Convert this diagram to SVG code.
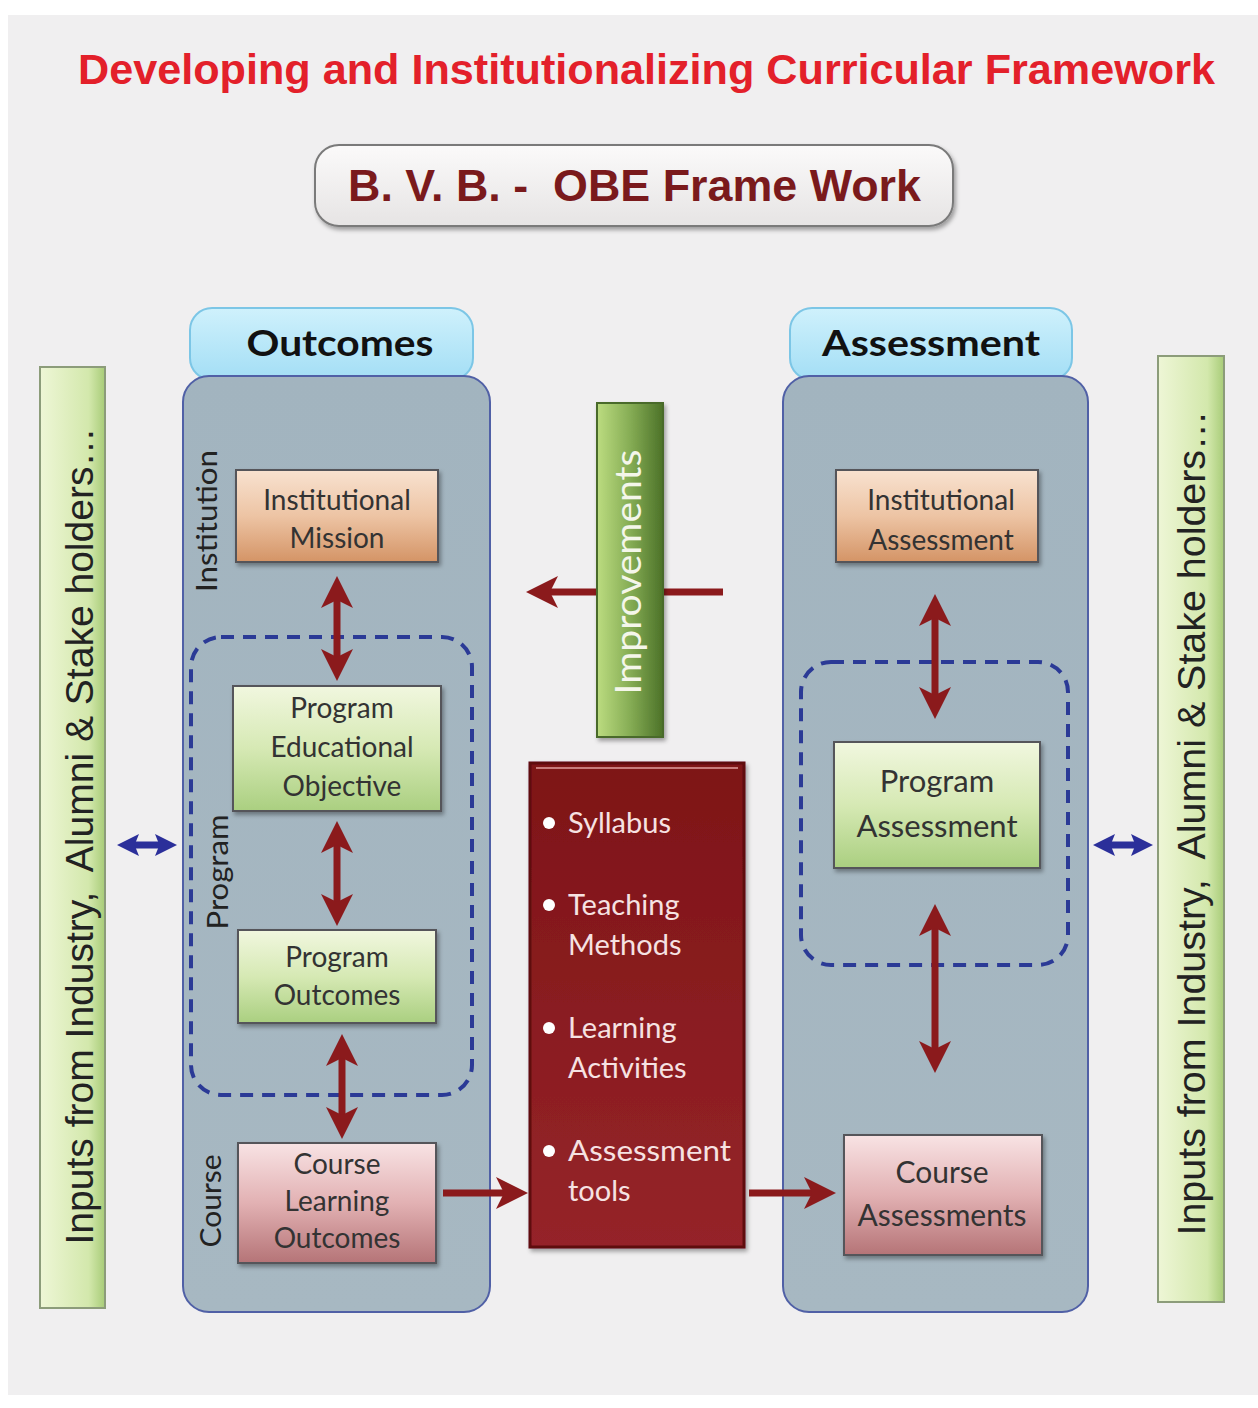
<svg xmlns="http://www.w3.org/2000/svg" width="1258" height="1408" viewBox="0 0 1258 1408">
<style>
.t{font-family:Lato,"Open Sans",sans-serif;fill:#333;text-anchor:middle}
.box{stroke:#55555a;stroke-width:2;filter:url(#sh)}
.dash{fill:none;stroke:#2b3a96;stroke-width:4;stroke-dasharray:13 9}
.red{stroke:#8b1a1c;stroke-width:7;fill:none}
.blue{stroke:#2b2f9a;stroke-width:7;fill:none}
.bul{font-family:Lato,"Open Sans",sans-serif;fill:#f6e2e2;font-size:29px}
</style>
<defs>
<filter id="sh" x="-10%" y="-10%" width="130%" height="130%"><feDropShadow dx="2" dy="3" stdDeviation="2" flood-color="#000" flood-opacity="0.35"/></filter>
<linearGradient id="peach" x1="0" y1="0" x2="0" y2="1"><stop offset="0" stop-color="#f8e2d0"/><stop offset="0.5" stop-color="#edc4a4"/><stop offset="1" stop-color="#d49466"/></linearGradient>
<linearGradient id="green" x1="0" y1="0" x2="0" y2="1"><stop offset="0" stop-color="#f1f7df"/><stop offset="0.5" stop-color="#d6e9b4"/><stop offset="1" stop-color="#aacf80"/></linearGradient>
<linearGradient id="pink" x1="0" y1="0" x2="0" y2="1"><stop offset="0" stop-color="#f8e3e4"/><stop offset="0.5" stop-color="#e2b1b3"/><stop offset="1" stop-color="#b57477"/></linearGradient>
<linearGradient id="tab" x1="0" y1="0" x2="0" y2="1"><stop offset="0" stop-color="#cff1fc"/><stop offset="1" stop-color="#a3def5"/></linearGradient>
<linearGradient id="panel" x1="0" y1="0" x2="0" y2="1"><stop offset="0" stop-color="#a2b4bf"/><stop offset="1" stop-color="#a7b8c2"/></linearGradient>
<linearGradient id="inp" x1="0" y1="0" x2="1" y2="0"><stop offset="0" stop-color="#eef6d6"/><stop offset="0.75" stop-color="#d3e8ac"/><stop offset="1" stop-color="#a8cc78"/></linearGradient>
<linearGradient id="imp" x1="0" y1="0" x2="1" y2="0"><stop offset="0" stop-color="#bcdc80"/><stop offset="0.5" stop-color="#86ad55"/><stop offset="1" stop-color="#4c7228"/></linearGradient>
<linearGradient id="dred" x1="0" y1="0" x2="0" y2="1"><stop offset="0" stop-color="#7e1417"/><stop offset="1" stop-color="#952429"/></linearGradient>
<linearGradient id="bvb" x1="0" y1="0" x2="0" y2="1"><stop offset="0" stop-color="#fbfafa"/><stop offset="1" stop-color="#e6e4e4"/></linearGradient>
<marker id="ar" viewBox="0 0 10 10" refX="5" refY="5" markerWidth="32" markerHeight="32" markerUnits="userSpaceOnUse" orient="auto-start-reverse"><path d="M0,0 L10,5 L0,10 L2.5,5 z" fill="#8b1a1c"/></marker>
<marker id="ab" viewBox="0 0 10 10" refX="5" refY="5" markerWidth="22" markerHeight="22" markerUnits="userSpaceOnUse" orient="auto-start-reverse"><path d="M0,0 L10,5 L0,10 L2,5 z" fill="#2b2f9a"/></marker>
</defs>

<rect x="0" y="0" width="1258" height="1408" fill="#ffffff"/>
<rect x="8" y="15" width="1250" height="1380" fill="#f0eff0"/>

<g id="title">
<text x="78" y="84" textLength="1137" lengthAdjust="spacingAndGlyphs" style="font-family:'Liberation Sans',Arial,sans-serif;font-weight:bold;font-size:43px;fill:#e3202a">Developing and Institutionalizing Curricular Framework</text>
</g>

<g id="bvb-box">
<rect x="315" y="145" width="638" height="81" rx="24" fill="url(#bvb)" stroke="#7a7a7a" stroke-width="2" filter="url(#sh)"/>
<text x="348" y="201" textLength="573" lengthAdjust="spacingAndGlyphs" xml:space="preserve" style="font-family:'Liberation Sans',Arial,sans-serif;font-weight:bold;font-size:44px;fill:#7a1a1c">B. V. B. -  OBE Frame Work</text>
</g>

<g id="inputs-left">
<rect x="40" y="367" width="65" height="941" fill="url(#inp)" stroke="#8c9c7a" stroke-width="2"/>
<text transform="translate(93,836) rotate(-90)" textLength="817" lengthAdjust="spacingAndGlyphs" style="font-family:'Liberation Sans',Arial,sans-serif;font-size:38px;fill:#222;text-anchor:middle" xml:space="preserve">Inputs from Industry,  Alumni &amp; Stake holders…</text>
</g>

<g id="inputs-right">
<rect x="1158" y="356" width="66" height="946" fill="url(#inp)" stroke="#8c9c7a" stroke-width="2"/>
<text transform="translate(1205,823) rotate(-90)" textLength="825" lengthAdjust="spacingAndGlyphs" style="font-family:'Liberation Sans',Arial,sans-serif;font-size:38px;fill:#222;text-anchor:middle" xml:space="preserve">Inputs from Industry,  Alumni &amp; Stake holders…</text>
</g>

<g id="outcomes-panel">
<rect x="190" y="308" width="283" height="72" rx="22" fill="url(#tab)" stroke="#7cc6e6" stroke-width="2"/>
<rect x="183" y="376" width="307" height="936" rx="26" fill="url(#panel)" stroke="#5060a6" stroke-width="2"/>
<text class="t" x="340" y="356" textLength="187" lengthAdjust="spacingAndGlyphs" style="font-weight:bold;font-size:37px;fill:#111">Outcomes</text>
<text class="t" transform="translate(217,521) rotate(-90)" textLength="142" lengthAdjust="spacingAndGlyphs" style="font-size:29px;fill:#222">Institution</text>
<text class="t" transform="translate(228,872) rotate(-90)" textLength="115" lengthAdjust="spacingAndGlyphs" style="font-size:29px;fill:#222">Program</text>
<text class="t" transform="translate(221,1201) rotate(-90)" textLength="93" lengthAdjust="spacingAndGlyphs" style="font-size:29px;fill:#222">Course</text>
<rect class="dash" x="191" y="637" width="281" height="458" rx="30"/>
</g>

<g id="assessment-panel">
<rect x="790" y="308" width="282" height="72" rx="22" fill="url(#tab)" stroke="#7cc6e6" stroke-width="2"/>
<rect x="783" y="376" width="305" height="936" rx="26" fill="url(#panel)" stroke="#5060a6" stroke-width="2"/>
<text class="t" x="931" y="356" textLength="218" lengthAdjust="spacingAndGlyphs" style="font-weight:bold;font-size:37px;fill:#111">Assessment</text>
<rect class="dash" x="801" y="662" width="267" height="303" rx="30"/>
</g>

<g id="institutional-mission">
<rect class="box" x="236" y="470" width="202" height="92" fill="url(#peach)"/>
<text class="t" x="337" y="510" style="font-size:28px">Institutional</text>
<text class="t" x="337" y="548" style="font-size:28px">Mission</text>
</g>

<g id="peo">
<rect class="box" x="233" y="686" width="208" height="125" fill="url(#green)"/>
<text class="t" x="342" y="718" style="font-size:28px">Program</text>
<text class="t" x="342" y="757" style="font-size:28px">Educational</text>
<text class="t" x="342" y="796" style="font-size:28px">Objective</text>
</g>

<g id="program-outcomes">
<rect class="box" x="238" y="930" width="198" height="93" fill="url(#green)"/>
<text class="t" x="337" y="967" style="font-size:28px">Program</text>
<text class="t" x="337" y="1005" style="font-size:28px">Outcomes</text>
</g>

<g id="clo">
<rect class="box" x="238" y="1143" width="198" height="120" fill="url(#pink)"/>
<text class="t" x="337" y="1174" style="font-size:28px">Course</text>
<text class="t" x="337" y="1211" style="font-size:28px">Learning</text>
<text class="t" x="337" y="1248" style="font-size:28px">Outcomes</text>
</g>

<g id="institutional-assessment">
<rect class="box" x="836" y="470" width="202" height="92" fill="url(#peach)"/>
<text class="t" x="941" y="510" style="font-size:28px">Institutional</text>
<text class="t" x="941" y="550" style="font-size:28px">Assessment</text>
</g>

<g id="program-assessment">
<rect class="box" x="834" y="742" width="206" height="126" fill="url(#green)"/>
<text class="t" x="937" y="792" style="font-size:31px">Program</text>
<text class="t" x="937" y="837" style="font-size:31px">Assessment</text>
</g>

<g id="course-assessments">
<rect class="box" x="844" y="1135" width="198" height="120" fill="url(#pink)"/>
<text class="t" x="942" y="1183" style="font-size:30px">Course</text>
<text class="t" x="942" y="1226" style="font-size:30px">Assessments</text>
</g>

<g id="delivery">
<rect x="530" y="763" width="214" height="484" fill="url(#dred)" stroke="#5e0c0e" stroke-width="3" filter="url(#sh)"/>
<line x1="536" y1="768" x2="738" y2="768" stroke="#e8a8a8" stroke-width="2" opacity="0.7"/>
<circle cx="549" cy="823" r="6" fill="#fff"/>
<text class="bul" x="568" y="833">Syllabus</text>
<circle cx="549" cy="905" r="6" fill="#fff"/>
<text class="bul" x="568" y="915">Teaching</text>
<text class="bul" x="568" y="955">Methods</text>
<circle cx="549" cy="1028" r="6" fill="#fff"/>
<text class="bul" x="568" y="1038">Learning</text>
<text class="bul" x="568" y="1078">Activities</text>
<circle cx="549" cy="1151" r="6" fill="#fff"/>
<text class="bul" x="568" y="1161" textLength="163" lengthAdjust="spacingAndGlyphs">Assessment</text>
<text class="bul" x="568" y="1201">tools</text>
</g>

<g id="connectors">
<line class="red" x1="337" y1="592" x2="337" y2="665" marker-start="url(#ar)" marker-end="url(#ar)"/>
<line class="red" x1="337" y1="837" x2="337" y2="910" marker-start="url(#ar)" marker-end="url(#ar)"/>
<line class="red" x1="342" y1="1050" x2="342" y2="1123" marker-start="url(#ar)" marker-end="url(#ar)"/>
<line class="red" x1="935" y1="610" x2="935" y2="703" marker-start="url(#ar)" marker-end="url(#ar)"/>
<line class="red" x1="935" y1="920" x2="935" y2="1057" marker-start="url(#ar)" marker-end="url(#ar)"/>
<line class="red" x1="443" y1="1193" x2="512" y2="1193" marker-end="url(#ar)"/>
<line class="red" x1="749" y1="1193" x2="820" y2="1193" marker-end="url(#ar)"/>
<line class="red" x1="723" y1="592" x2="542" y2="592" stroke-width="6" marker-end="url(#ar)"/>
<line class="blue" x1="128" y1="845" x2="166" y2="845" marker-start="url(#ab)" marker-end="url(#ab)"/>
<line class="blue" x1="1104" y1="845" x2="1142" y2="845" marker-start="url(#ab)" marker-end="url(#ab)"/>
</g>

<g id="improvements">
<rect x="597" y="403" width="66" height="334" fill="url(#imp)" stroke="#4a6a2a" stroke-width="2" filter="url(#sh)"/>
<text class="t" transform="translate(641,572) rotate(-90)" textLength="245" lengthAdjust="spacingAndGlyphs" style="font-size:36px;fill:#f4f6ea">Improvements</text>
</g>
</svg>
